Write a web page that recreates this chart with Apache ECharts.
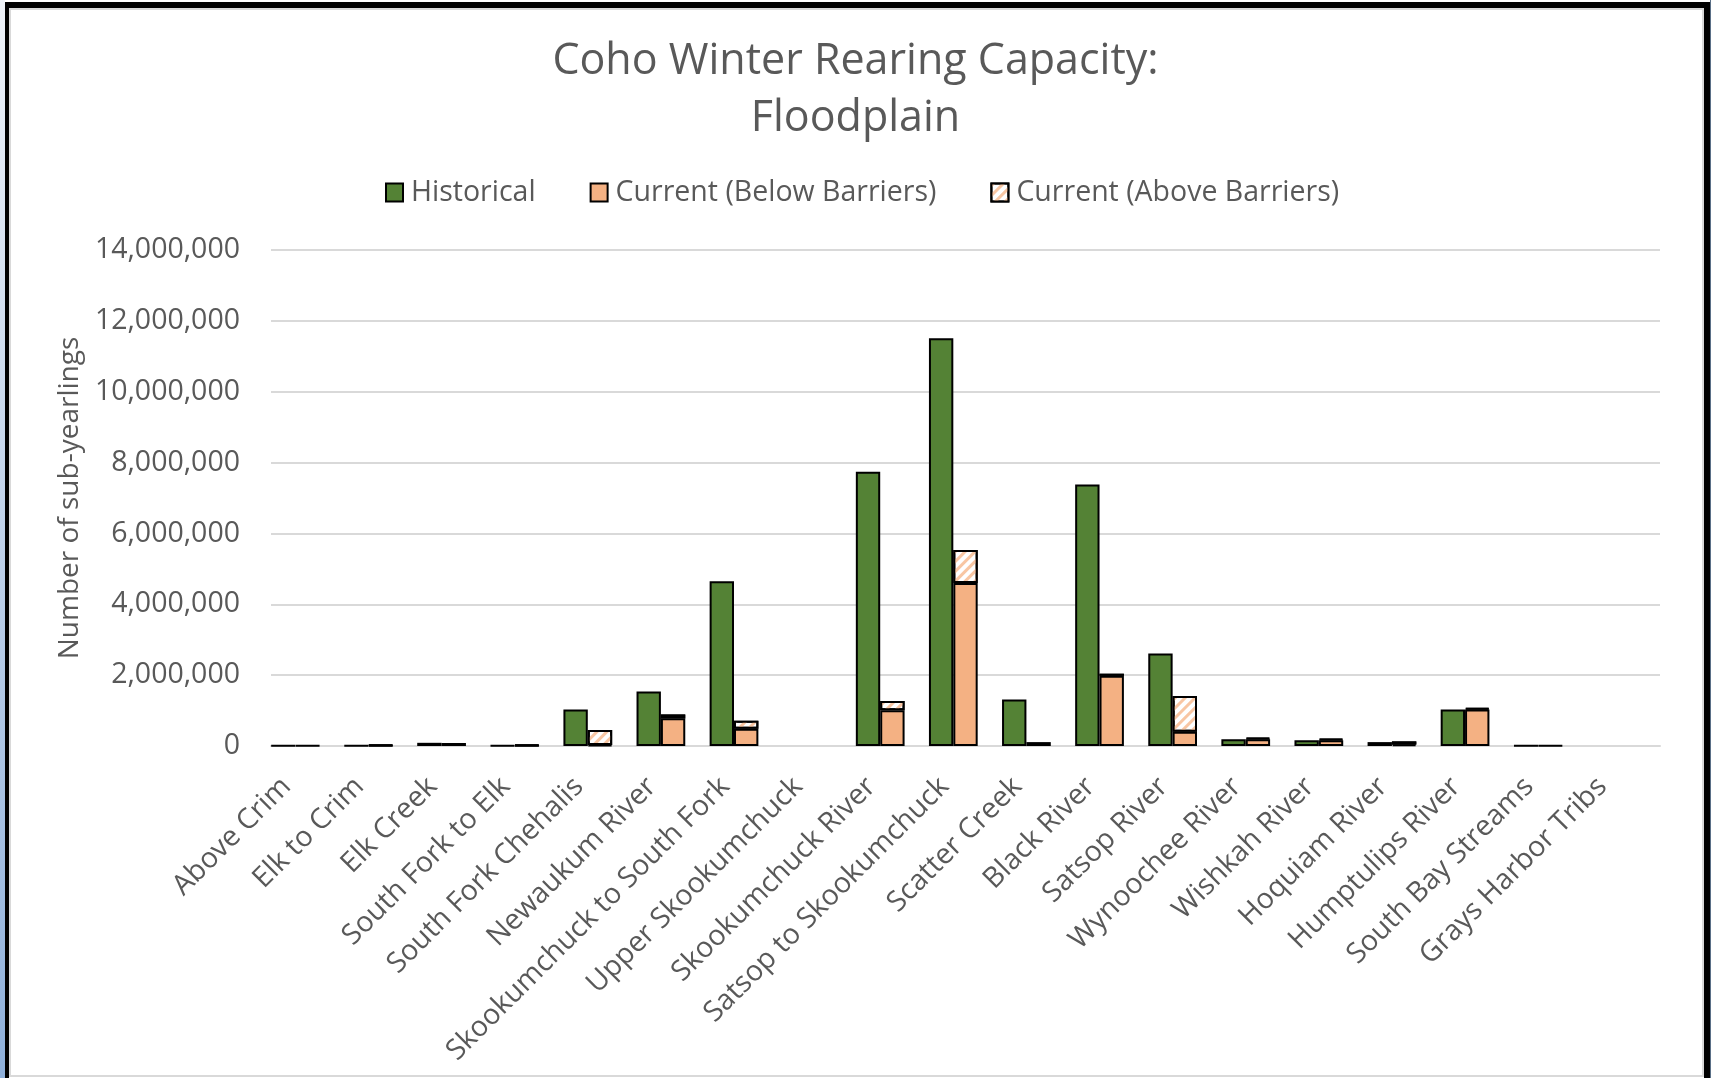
<!DOCTYPE html>
<html>
<head>
<meta charset="utf-8">
<script src="https://cdn.jsdelivr.net/npm/echarts@6/dist/echarts.min.js"></script>
<style>
  html, body { margin: 0; padding: 0; background: #fff; }
  #chart { width: 1711px; height: 1078px; }
</style>
</head>
<body>
<div id="chart"></div>
<script>
// reaches in the basin
const categories = [
  'Above Crim', 'Elk to Crim', 'Elk Creek', 'South Fork to Elk', 'South Fork Chehalis',
  'Newaukum River', 'Skookumchuck to South Fork', 'Upper Skookumchuck', 'Skookumchuck River',
  'Satsop to Skookumchuck', 'Scatter Creek', 'Black River', 'Satsop River', 'Wynoochee River',
  'Wishkah River', 'Hoquiam River', 'Humptulips River', 'South Bay Streams', 'Grays Harbor Tribs'
]

// values (sub-yearlings)
const historical = [
  10000, 10000, 90000, 10000, 1030000, 1540000, 4650000, 0, 7740000,
  11510000, 1310000, 7380000, 2610000, 190000, 160000, 110000, 1030000, 10000, 0
]
const belowBarriers = [
  10000, 10000, 85000, 10000, 30000, 780000, 490000, 0, 1010000,
  4600000, 110000, 1980000, 400000, 190000, 160000, 40000, 1030000, 10000, 0
]
const aboveBarriers = [
  0, 20000, 0, 20000, 425000, 110000, 220000, 0, 260000,
  930000, 0, 60000, 1010000, 40000, 40000, 90000, 40000, 0, 0
]

const yTicks = { min: 0, max: 14000000, interval: 2000000 }

const textColor = '#595959'
const fontFamily = '"Open Sans", "DejaVu Sans", sans-serif'
const outline = { borderColor: '#000', borderWidth: 2 }

// 0 means no bar at all in the original (no outline drawn)
const asBars = arr => arr.map(v => (v === 0 ? '-' : v))

const chart = echarts.init(document.getElementById('chart'))

const option = {
  animation: false,
  backgroundColor: '#fff',
  textStyle: { fontFamily: fontFamily },
  title: {
    text: 'Coho Winter Rearing Capacity:\nFloodplain',
    left: 'center',
    top: 28,
    textStyle: { fontFamily: fontFamily, fontSize: 43, fontWeight: 'normal', color: textColor, lineHeight: 57 }
  },
  legend: {
    data: ['Historical', 'Current (Below Barriers)', 'Current (Above Barriers)'],
    left: 380,
    top: 173,
    itemWidth: 17,
    itemHeight: 18,
    itemGap: 54,
    icon: 'rect',
    itemStyle: { borderColor: '#000', borderWidth: 2 },
    textStyle: { fontFamily: fontFamily, fontSize: 28.5, color: textColor, padding: [0, 0, 0, 3] }
  },
  grid: { left: 271, right: 51, top: 250, bottom: 332, containLabel: false },
  xAxis: {
    type: 'category',
    data: categories,
    axisTick: { show: false },
    axisLine: { lineStyle: { color: '#d9d9d9', width: 2 } },
    axisLabel: {
      interval: 0,
      rotate: 45,
      margin: 15,
      padding: [0, 30, 0, 0],
      fontSize: 28.5,
      color: textColor,
      fontFamily: fontFamily
    }
  },
  yAxis: {
    type: 'value',
    min: yTicks.min,
    max: yTicks.max,
    interval: yTicks.interval,
    name: 'Number of sub-yearlings',
    nameLocation: 'middle',
    nameGap: 187,
    nameTextStyle: { fontSize: 28, color: textColor, fontFamily: fontFamily },
    axisLine: { show: false },
    axisTick: { show: false },
    splitLine: { lineStyle: { color: '#d9d9d9', width: 2 } },
    axisLabel: {
      margin: 31,
      fontSize: 28.5,
      color: textColor,
      fontFamily: fontFamily,
      formatter: v => v.toLocaleString('en-US')
    }
  },
  series: [
    {
      name: 'Historical',
      type: 'bar',
      stack: 'hist',
      barGap: '0%',
      barCategoryGap: '0%',
      itemStyle: Object.assign({ color: '#548235' }, outline),
      data: asBars(historical)
    },
    {
      name: 'Current (Below Barriers)',
      type: 'bar',
      stack: 'cur',
      itemStyle: Object.assign({ color: '#f4b183' }, outline),
      data: asBars(belowBarriers)
    },
    {
      name: 'Current (Above Barriers)',
      type: 'bar',
      stack: 'cur',
      itemStyle: Object.assign({
        color: '#ffffff',
        decal: {
          symbol: 'rect',
          symbolSize: 1,
          color: '#f8c6a3',
          dashArrayX: [1, 0],
          dashArrayY: [3, 4],
          rotation: -Math.PI / 4
        }
      }, outline),
      data: asBars(aboveBarriers)
    },
    {
      // empty third slot, Excel clusters leave it blank
      name: 'spacer',
      type: 'bar',
      stack: 'spacer',
      data: []
    }
  ],
  graphic: [
    {
      type: 'rect', silent: true, z: 100,
      shape: { x: 0, y: 0, width: 5, height: 1078 },
      style: {
        fill: new echarts.graphic.LinearGradient(0, 0, 0, 1, [
          { offset: 0, color: '#eef2f8' }, { offset: 1, color: '#8fb0da' }
        ])
      }
    },
    { type: 'rect', silent: true, z: 100, shape: { x: 5, y: 2, width: 1706, height: 6 }, style: { fill: '#000' } },
    { type: 'rect', silent: true, z: 100, shape: { x: 5, y: 2, width: 4, height: 1076 }, style: { fill: '#000' } },
    { type: 'rect', silent: true, z: 100, shape: { x: 1704, y: 2, width: 6, height: 1076 }, style: { fill: '#000' } },
    { type: 'rect', silent: true, z: 100, shape: { x: 1710, y: 0, width: 1, height: 1078 }, style: { fill: '#5a6f86' } },
    {
      type: 'rect', silent: true, z: 100,
      shape: { x: 10, y: 9, width: 1693, height: 1067 },
      style: { fill: 'none', stroke: '#d9d9d9', lineWidth: 2 }
    }
  ]
}

chart.setOption(option)
</script>
</body>
</html>
